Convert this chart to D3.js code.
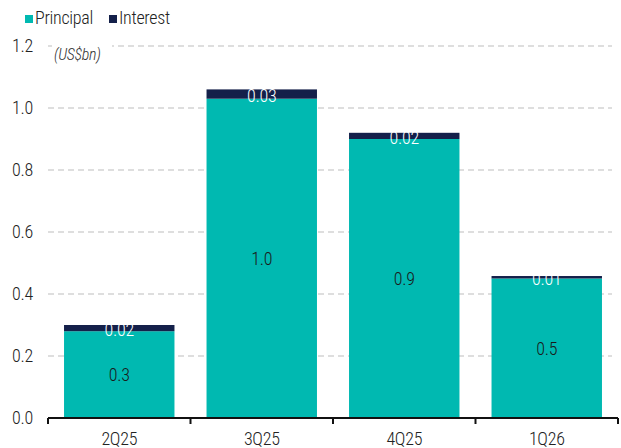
<!DOCTYPE html>
<html><head><meta charset="utf-8">
<script src="https://cdn.jsdelivr.net/npm/d3@7"></script>
<style>
body{margin:0;background:#fff;}
text{font-family:"Roboto Condensed",Roboto,"Liberation Sans",sans-serif;font-weight:300;letter-spacing:-0.3px;}
</style></head>
<body><svg id="c" width="621" height="448"></svg>
<script>
const categories = ["2Q25","3Q25","4Q25","1Q26"];
const principal = [0.28, 1.03, 0.90, 0.45];
const interest = [0.02, 0.03, 0.02, 0.008];
const yTicks = [0.0, 0.2, 0.4, 0.6, 0.8, 1.0, 1.2];
const seriesNames = ["Principal","Interest"];
const colors = ["#00B9B1","#14204A"];

(function(){
const svg = d3.select("#c");
const mLeft = 48, mRight = 618, mTop = 46, mBottom = 418;
const fs = 18;
const x = d3.scaleBand().domain(categories).range([mLeft, mRight]).paddingInner(0.225).paddingOuter(0.1125);
const y = d3.scaleLinear().domain([0, 1.2]).range([mBottom, mTop]);

svg.append("g").selectAll("line").data(yTicks.filter(d => d > 0)).join("line")
  .attr("x1", mLeft).attr("x2", mRight - 6)
  .attr("y1", d => y(d)).attr("y2", d => y(d))
  .attr("stroke", "#bdbdbd").attr("stroke-width", 1).attr("stroke-dasharray", "6,4");

svg.append("g").selectAll("text").data(yTicks).join("text")
  .attr("x", 33).attr("y", d => y(d)).attr("dy", "0.35em")
  .attr("text-anchor", "end").attr("font-size", fs).attr("fill", "#222")
  .text(d => d3.format(".1f")(d));

svg.append("rect").attr("x", 52).attr("y", 44).attr("width", 60).attr("height", 22).attr("fill", "#fff");
svg.append("text").attr("x", 54).attr("y", 60).attr("font-size", 16).attr("font-style", "italic")
  .attr("fill", "#333").text("(US$bn)");

const data = categories.map((c, i) => ({c, p: principal[i], it: interest[i]}));

const g = svg.append("g");
g.selectAll("rect.p").data(data).join("rect").attr("class", "p")
  .attr("x", d => x(d.c)).attr("width", x.bandwidth())
  .attr("y", d => y(d.p)).attr("height", d => y(0) - y(d.p))
  .attr("fill", colors[0]);
g.selectAll("rect.i").data(data).join("rect").attr("class", "i")
  .attr("x", d => x(d.c)).attr("width", x.bandwidth())
  .attr("y", d => y(d.p + d.it)).attr("height", d => y(d.p) - y(d.p + d.it))
  .attr("fill", colors[1]);

g.selectAll("text.pl").data(data).join("text").attr("class", "pl")
  .attr("x", d => x(d.c) + x.bandwidth() / 2)
  .attr("y", d => (y(0) + y(d.p)) / 2).attr("dy", "0.35em")
  .attr("text-anchor", "middle").attr("font-size", fs).attr("fill", "#1a1a1a")
  .text(d => d3.format(".1f")(d.p));

g.selectAll("text.il").data(data).join("text").attr("class", "il")
  .attr("x", d => x(d.c) + x.bandwidth() / 2)
  .attr("y", d => (y(d.p) + y(d.p + d.it)) / 2 + 1.5).attr("dy", "0.35em")
  .attr("text-anchor", "middle").attr("font-size", fs).attr("fill", "#fff")
  .text(d => d3.format(".2f")(d.it));

const xAxis = svg.append("g");
xAxis.append("line").attr("x1", mLeft).attr("x2", mRight).attr("y1", mBottom).attr("y2", mBottom)
  .attr("stroke", "#111").attr("stroke-width", 2);
const edges = categories.map(c => x(c) - x.step() * x.paddingInner() / 2).concat([mRight]);
xAxis.selectAll("line.t").data(edges).join("line").attr("class", "t")
  .attr("x1", d => d).attr("x2", d => d).attr("y1", mBottom).attr("y2", mBottom + 6)
  .attr("stroke", "#111").attr("stroke-width", 2);
xAxis.selectAll("text").data(categories).join("text")
  .attr("x", d => x(d) + x.bandwidth() / 2).attr("y", 445)
  .attr("text-anchor", "middle").attr("font-size", fs).attr("fill", "#222").text(d => d);

const leg = svg.append("g");
const legX = [25, 109];
seriesNames.forEach((s, i) => {
  leg.append("rect").attr("x", legX[i]).attr("y", 15).attr("width", 8).attr("height", 8).attr("fill", colors[i]);
  leg.append("text").attr("x", legX[i] + 10).attr("y", 24).attr("font-size", fs).attr("fill", "#222").text(s);
});
})();
</script></body></html>
